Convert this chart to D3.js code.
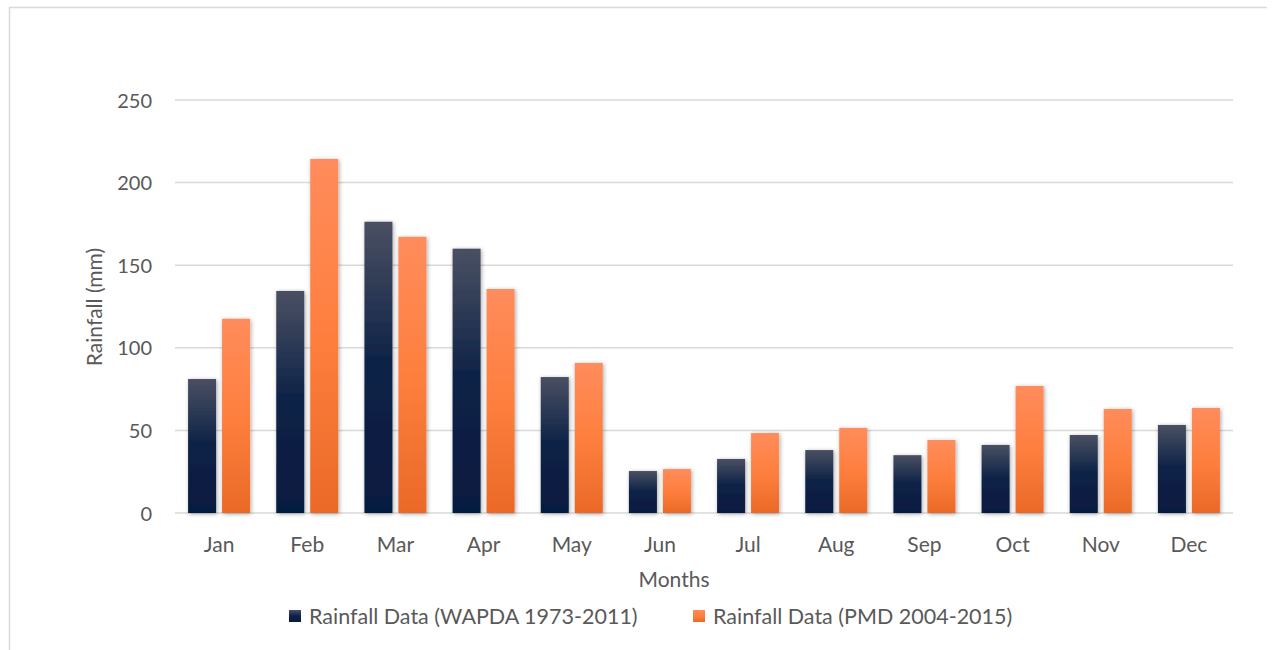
<!DOCTYPE html>
<html>
<head>
<meta charset="utf-8">
<script src="https://cdn.jsdelivr.net/npm/d3@7/dist/d3.min.js"></script>
<style>
  html, body { margin: 0; padding: 0; background: #fff; }
  svg { display: block; }
  text { font-family: Lato, "Open Sans", sans-serif; fill: #595959; }
</style>
</head>
<body>
<svg id="chart" width="1277" height="650"></svg>
<script>
// Monthly rainfall (mm)
const months = ["Jan","Feb","Mar","Apr","May","Jun","Jul","Aug","Sep","Oct","Nov","Dec"];
const seriesNames = ["Rainfall Data (WAPDA 1973-2011)", "Rainfall Data (PMD 2004-2015)"];
const wapda = [81.1, 134.4, 176.3, 160.0, 82.3, 25.4, 32.7, 38.1, 35.0, 41.2, 47.2, 53.3];
const pmd   = [117.6, 214.3, 167.2, 135.6, 90.8, 26.6, 48.4, 51.5, 44.2, 76.9, 63.0, 63.6];
const yTicks = [0, 50, 100, 150, 200, 250];

const svg = d3.select("#chart");
const W = 1277, H = 650;
const plot = { left: 175, right: 1233, top: 100, bottom: 513 };

// Chart frame
svg.append("line").attr("x1", 9).attr("x2", 1267).attr("y1", 7.5).attr("y2", 7.5)
  .attr("stroke", "#d9d9d9").attr("stroke-width", 1.5);
svg.append("line").attr("x1", 9.5).attr("x2", 9.5).attr("y1", 7).attr("y2", H)
  .attr("stroke", "#d9d9d9").attr("stroke-width", 1.5);

const defs = svg.append("defs");
function grad(id, stops) {
  const g = defs.append("linearGradient").attr("id", id)
    .attr("x1", 0).attr("y1", 0).attr("x2", 0).attr("y2", 1);
  stops.forEach(([o, c]) => g.append("stop").attr("offset", o).attr("stop-color", c));
}
grad("gWapda", [[0, "#4a5062"], [0.5, "#0c2146"], [1, "#061c3f"]]);
grad("gPmd", [[0, "#ff8c5c"], [0.5, "#fe7f3e"], [1, "#ea6927"]]);
const fills = ["url(#gWapda)", "url(#gPmd)"];

const shadow = defs.append("filter").attr("id", "shadow")
  .attr("x", "-30%").attr("y", "-10%").attr("width", "160%").attr("height", "120%");
shadow.append("feDropShadow").attr("dx", 1).attr("dy", 1)
  .attr("stdDeviation", 2.2).attr("flood-color", "#000").attr("flood-opacity", 0.35);

const y = d3.scaleLinear().domain([0, 250]).range([plot.bottom, plot.top]);
const p = 0.297;
const x0 = d3.scaleBand().domain(months).range([plot.left, plot.right])
  .paddingInner(p).paddingOuter(p / 2);
const x1 = d3.scaleBand().domain([0, 1]).range([0, x0.bandwidth()]).paddingInner(0.176);

// Gridlines
svg.append("g").selectAll("line").data(yTicks).join("line")
  .attr("x1", plot.left).attr("x2", plot.right)
  .attr("y1", d => y(d)).attr("y2", d => y(d))
  .attr("stroke", "#d9d9d9").attr("stroke-width", 1.5);

// Y axis labels
const yAxis = d3.axisLeft(y).tickValues(yTicks).tickSize(0).tickPadding(0);
const gy = svg.append("g").attr("transform", "translate(152,0)").call(yAxis);
gy.select(".domain").remove();
gy.selectAll("text").style("font-size", "20px").style("font-family", "Lato, sans-serif")
  .attr("fill", "#595959").attr("dy", "0.35em");

// Bars
const rows = months.map((m, i) => ({ m, vals: [wapda[i], pmd[i]] }));
const groups = svg.append("g").selectAll("g").data(rows).join("g")
  .attr("transform", d => `translate(${x0(d.m)},0)`);
groups.selectAll("rect").data(d => d.vals.map((v, k) => ({ v, k }))).join("rect")
  .attr("x", d => x1(d.k)).attr("width", x1.bandwidth())
  .attr("y", d => y(d.v)).attr("height", d => y(0) - y(d.v))
  .attr("fill", d => fills[d.k]).attr("filter", "url(#shadow)");

// X axis labels
const xAxis = d3.axisBottom(x0).tickSize(0).tickPadding(0);
const gx = svg.append("g").attr("transform", `translate(0,${plot.bottom + 32})`).call(xAxis);
gx.select(".domain").remove();
gx.selectAll("text").style("font-size", "21px").style("font-family", "Lato, sans-serif")
  .attr("fill", "#595959").attr("dy", "0.35em");

// Axis titles
svg.append("text").attr("x", 674).attr("y", 580).attr("dy", "0.35em")
  .attr("text-anchor", "middle").style("font-size", "21px").text("Months");
svg.append("text").attr("transform", "translate(95,307) rotate(-90)").attr("dy", "0.35em")
  .attr("text-anchor", "middle").style("font-size", "21px").text("Rainfall (mm)");

// Legend
const legendX = [289, 693];
const leg = svg.append("g").selectAll("g").data(seriesNames).join("g")
  .attr("transform", (d, i) => `translate(${legendX[i]},610)`);
leg.append("rect").attr("width", 12).attr("height", 12).attr("fill", (d, i) => fills[i]);
leg.append("text").attr("x", 20).attr("y", 6).attr("dy", "0.35em")
  .style("font-size", "21.5px").text(d => d);
</script>
</body>
</html>
